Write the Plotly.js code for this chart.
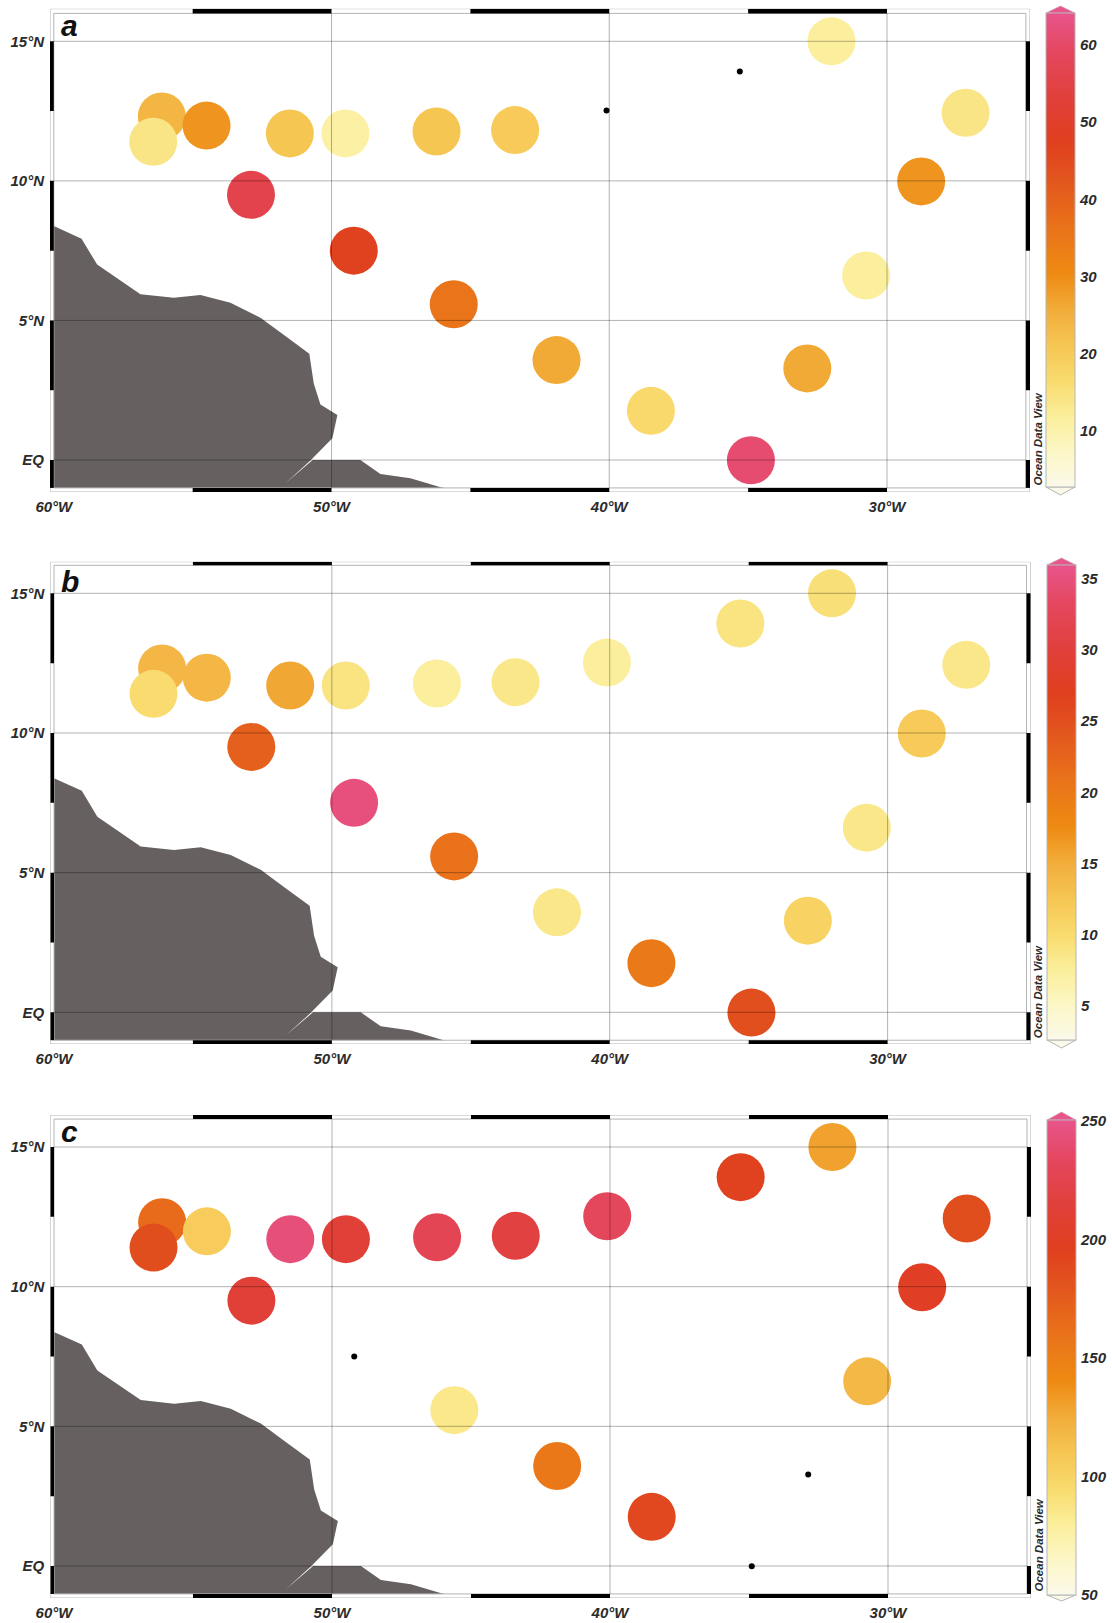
<!DOCTYPE html>
<html><head><meta charset="utf-8">
<script src="https://cdn.plot.ly/plotly-3.0.1.min.js"></script>
<style>html,body{margin:0;padding:0;background:#fff;overflow:hidden}#plot{width:1112px;height:1623px}</style>
</head><body><div id="plot"></div>
<script>
const stationLon=[-56.11,-56.42,-54.5,-51.5,-49.5,-46.22,-43.39,-40.1,-35.3,-32.0,-27.17,-28.77,-30.75,-32.87,-34.9,-38.5,-41.9,-45.6,-49.2,-52.9];
const stationLat=[12.31,11.4,11.98,11.7,11.7,11.77,11.82,12.52,13.92,15.0,12.44,9.98,6.61,3.28,-0.01,1.76,3.58,5.58,7.5,9.5];
const valuesA=[24,14,29,21,11,21,20,null,null,11.5,14,29,11.5,26,61,17,26,36,47,56];
const valuesB=[14,10,14,15.5,9,7.5,8.5,7.5,9,9.5,8.5,12,8.5,11,25,20,8.5,21,35,23];
const valuesC=[165,185,105,243,212,228,218,232,195,130,185,200,118,null,null,190,155,85,null,212];
const landLon=[-60,-59,-58.44,-56.88,-55.68,-54.72,-53.64,-52.56,-51.7,-50.8,-50.64,-50.4,-49.79,-49.97,-50.76,-51.66,-50.68,-48.96,-48.24,-47.16,-46.01,-45.9,-60];
const landLat=[8.38,7.93,7.0,5.94,5.81,5.91,5.63,5.1,4.47,3.81,2.74,1.99,1.61,0.78,-0.02,-0.83,0,0,-0.5,-0.65,-0.99,-1,-1];
const lonTicks=[-60,-50,-40,-30];
const lonLabels=['60°W','50°W','40°W','30°W'];
const latTicks=[0,5,10,15];
const latLabels=['EQ','5°N','10°N','15°N'];
const panelLetters=['a','b','c'];
const letterLat=[15.55,15.42,15.55];
const barTicksA=[10,20,30,40,50,60];
const barTicksB=[5,10,15,20,25,30,35];
const barTicksC=[50,100,150,200,250];
const oceanScale=[[0,'#fbf9ea'],[0.07,'#fcf7c8'],[0.15,'#fbee9a'],[0.22,'#f9dc70'],[0.3,'#f6c552'],[0.37,'#f2ae3c'],[0.45,'#ee8a12'],[0.55,'#e9721a'],[0.65,'#e2551e'],[0.73,'#e03f1f'],[0.82,'#e0403a'],[0.92,'#e44760'],[1,'#e8558c']];

const W=1112,H=1623;
const FONT='"Liberation Sans", Arial, sans-serif';
const TXT='#2b2b2b';
const panels=[
 {vals:valuesA,ticks:barTicksA,left:50,right:1030,top:8.7,bottom:492,yEq:460,y15:41.3,x60:53.8,x30:887,
  barL:1046,barR:1075,barTop:13,barBot:487,tipTop:6,tipBot:495,cmin:2.75,cmax:64.14},
 {vals:valuesB,ticks:barTicksB,left:50.3,right:1030.7,top:561.7,bottom:1044,yEq:1012.3,y15:593.3,x60:54,x30:887.6,
  barL:1047,barR:1076,barTop:565,barBot:1040,tipTop:558,tipBot:1048,cmin:2.59,cmax:35.98},
 {vals:valuesC,ticks:barTicksC,left:50.3,right:1031,top:1115,bottom:1598,yEq:1566,y15:1147,x60:54,x30:888,
  barL:1047,barR:1076,barTop:1120,barBot:1595,tipTop:1112,tipBot:1601,cmin:50,cmax:250.4}
];

const traces=[],shapes=[],annotations=[],layout={
 width:W,height:H,margin:{l:0,r:0,t:0,b:0,pad:0},paper_bgcolor:'#fff',plot_bgcolor:'#fff',showlegend:false,hovermode:false
};

panels.forEach((p,i)=>{
 const n=i===0?'':String(i+1), xa='x'+n, ya='y'+n;
 const pxLon=(p.x30-p.x60)/30, pxLat=(p.yEq-p.y15)/15;
 const lonMin=-60-(p.x60-p.left)/pxLon, lonMax=-60+(p.right-p.x60)/pxLon;
 const latMax=(p.yEq-p.top)/pxLat, latMin=(p.yEq-p.bottom)/pxLat;
 const tickFont={family:FONT,size:15,color:TXT,style:'italic',weight:'bold'};
 layout['xaxis'+n]={domain:[p.left/W,p.right/W],range:[lonMin,lonMax],anchor:ya,tickmode:'array',tickvals:lonTicks,ticktext:lonLabels,
   showgrid:false,zeroline:false,showline:false,ticks:'outside',ticklen:1,tickcolor:'rgba(0,0,0,0)',tickfont:tickFont};
 layout['yaxis'+n]={domain:[1-p.bottom/H,1-p.top/H],range:[latMin,latMax],anchor:xa,tickmode:'array',tickvals:latTicks,ticktext:latLabels,
   showgrid:false,zeroline:false,showline:false,ticks:'outside',ticklen:2,tickcolor:'rgba(0,0,0,0)',tickfont:tickFont};

 // land
 traces.push({type:'scatter',mode:'lines',x:landLon,y:landLat,xaxis:xa,yaxis:ya,fill:'toself',fillcolor:'#666160',line:{width:0},hoverinfo:'skip'});

 // stations with a value / without
 const lon=[],lat=[],val=[],dotLon=[],dotLat=[];
 p.vals.forEach((v,k)=>{ if(v===null){dotLon.push(stationLon[k]);dotLat.push(stationLat[k]);} else {lon.push(stationLon[k]);lat.push(stationLat[k]);val.push(v);} });
 const barLen=(p.barBot-p.barTop)/H;
 traces.push({type:'scatter',mode:'markers',x:lon,y:lat,xaxis:xa,yaxis:ya,hoverinfo:'skip',
  marker:{size:48,color:val,cmin:p.cmin,cmax:p.cmax,colorscale:oceanScale,line:{width:0},opacity:1,
   colorbar:{thickness:p.barR-p.barL,thicknessmode:'pixels',len:barLen,lenmode:'fraction',x:p.barL/W,xanchor:'left',xref:'paper',
    y:1-p.barBot/H,yanchor:'bottom',yref:'paper',xpad:0,ypad:0,outlinecolor:'#b5b5b5',outlinewidth:1,borderwidth:0,
    tickmode:'array',tickvals:p.ticks,ticktext:p.ticks.map(String),ticks:'outside',ticklen:2,tickcolor:'rgba(0,0,0,0)',
    tickfont:{family:FONT,size:15,color:TXT,style:'italic',weight:'bold'}}}});
 if(dotLon.length) traces.push({type:'scatter',mode:'markers',x:dotLon,y:dotLat,xaxis:xa,yaxis:ya,hoverinfo:'skip',marker:{size:6,color:'#000'}});

 // frame lines, then the black bands over them
 const frameLine={color:'#b4b4b4',width:1};
 shapes.push({type:'rect',xref:xa,yref:ya,x0:lonMin,x1:lonMax,y0:latMin,y1:latMax,layer:'above',line:frameLine});
 shapes.push({type:'rect',xref:xa,yref:ya,x0:-60,x1:-25,y0:-1,y1:16,layer:'above',line:frameLine});
 const rect=(x0,x1,y0,y1,fill)=>shapes.push({type:'rect',xref:xa,yref:ya,x0,x1,y0,y1,layer:'above',fillcolor:fill,line:{width:0}});
 [[-55,-50],[-45,-40],[-35,-30]].forEach(s=>{rect(s[0],s[1],16,latMax,'#000');rect(s[0],s[1],latMin,-1,'#000');});
 [[15,12.5],[10,7.5],[5,2.5],[0,-1]].forEach(s=>{rect(lonMin,-60,s[1],s[0],'#000');rect(-25,lonMax,s[1],s[0],'#000');});
 // graticule drawn over the land and the circles
 const grid={color:'rgba(0,0,0,0.3)',width:1};
 latTicks.forEach(v=>shapes.push({type:'line',xref:xa,yref:ya,x0:-60,x1:-25,y0:v,y1:v,layer:'above',line:grid}));
 lonTicks.slice(1).forEach(v=>shapes.push({type:'line',xref:xa,yref:ya,x0:v,x1:v,y0:-1,y1:16,layer:'above',line:grid}));

 // colour bar end points
 const fx=v=>v/W, fy=v=>1-v/H;
 const cx=(p.barL+p.barR)/2;
 shapes.push({type:'path',xref:'paper',yref:'paper',layer:'above',fillcolor:'#e8558c',line:{color:'#c9a0ad',width:0.6},
  path:`M${fx(p.barL)},${fy(p.barTop)}L${fx(cx)},${fy(p.tipTop)}L${fx(p.barR)},${fy(p.barTop)}Z`});
 shapes.push({type:'path',xref:'paper',yref:'paper',layer:'above',fillcolor:'#fbf9ea',line:{color:'#b5b5b5',width:1},
  path:`M${fx(p.barL)},${fy(p.barBot)}L${fx(cx)},${fy(p.tipBot)}L${fx(p.barR)},${fy(p.barBot)}Z`});

 annotations.push({xref:xa,yref:ya,x:-59.82,y:letterLat[i],text:panelLetters[i],showarrow:false,xanchor:'left',yanchor:'middle',
   font:{family:FONT,size:30,color:'#111',style:'italic',weight:'bold'}});
 annotations.push({xref:'paper',yref:'paper',x:(p.right+7)/W,y:1-(p.bottom-4)/H,text:'Ocean Data View',textangle:-90,showarrow:false,
   xanchor:'center',yanchor:'bottom',font:{family:FONT,size:11.5,color:TXT,style:'italic',weight:'bold'}});
});
layout.shapes=shapes;layout.annotations=annotations;
Plotly.newPlot('plot',traces,layout,{displayModeBar:false,staticPlot:true});
</script></body></html>
